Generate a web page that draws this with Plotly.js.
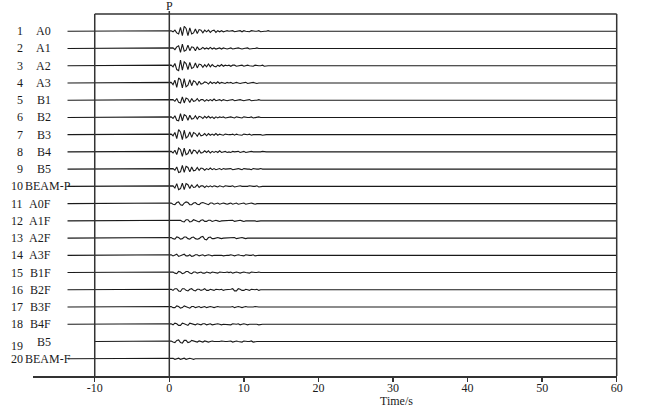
<!DOCTYPE html>
<html>
<head>
<meta charset="utf-8">
<script src="https://cdn.plot.ly/plotly-3.0.1.min.js"></script>
<style>html,body{margin:0;padding:0;background:#fff;}#chart{width:645px;height:410px;}</style>
</head>
<body>
<div id="chart"></div>
<script>
// ---- data ----
const traceNumbers = ["1","2","3","4","5","6","7","8","9","10","11","12","13","14","15","16","17","18","19","20"];
const stationNames = ["A0","A1","A2","A3","B1","B2","B3","B4","B5","BEAM-P","A0F","A1F","A2F","A3F","B1F","B2F","B3F","B4F","B5","BEAM-F"];
const traceStart = [-13.65,-13.65,-13.65,-13.65,-13.65,-13.65,-13.65,-13.65,-13.65,-13.65,-13.65,-13.65,-13.65,-13.65,-13.65,-13.65,-13.65,-13.65,-10,-13.65];
const traceEnd = 60;
const sampleStep = 0.25;   // s, samples start at P (t = 0)
const xTicks = [-10,0,10,20,30,40,50,60];

// amplitudes (counts), t = 0 ... 14 s
const wA0   = [0,1,-1,2,-3,-5,7,-8,9,5,-8,6,-5,-3,4,-4,3,2,-3,2, -1,2,-2,1,2,-2,1,-1,1,-1,0,1,0, 0,1,-1,0,0,1,-1,1,0,0,-1,1,0,0,0,1,-1,0,0,0,1,0,0,0];
const wA1   = [0,0,1,-2,3,5,-7,8,-5,-3,6,-4,3,2,-4,3,-2,-1,2,-1, 1,-1,2,-1,1,-1,0,1,-1,1,0,-1,0, 1,-1,0,0,1,0,-1,0,0,1,-1,0,0,0,1,0,0,-1,0,0,0,0,0,0];
const wA2   = [0,1,-2,4,-7,-9,10,-8,7,4,-7,6,-5,-3,5,-4,3,2,-3,2, -2,3,-2,2,-1,-2,1,-1,2,-1,1,0,1, -1,1,1,-1,0,0,1,-1,0,1,0,0,-1,1,0,0,0,1,-1,0,0,0,0,0];
const wA3   = [0,1,-3,5,-8,9,6,-9,8,-7,-4,6,-5,4,2,-4,3,-2,-1,2, 1,-2,2,-1,1,-1,2,-1,1,0,-1,1,0, 1,-1,0,1,0,-1,0,0,1,-1,0,0,1,0,-1,0,0,0,1,0,0,0,0,0];
const wB1   = [0,0,1,-2,3,-4,-5,6,-5,4,2,-4,3,-2,-1,3,-2,1,1,-2, 1,-1,1,-1,2,-1,0,1,-1,1,0,-1,0, 0,1,-1,0,0,1,0,-1,0,0,1,-1,0,0,0,1,0,0,-1,0,0,0,0,0];
const wB2   = [0,1,-2,3,-5,-6,7,-6,5,3,-5,4,-3,-2,3,-3,2,1,-2,2, -1,2,-1,1,-2,1,-1,1,0,1,-1,0,0, 1,0,-1,1,0,0,-1,1,0,0,0,1,-1,0,0,1,0,0,0,-1,0,0,0,0];
const wB3   = [0,1,-2,4,-7,9,5,-9,8,-6,-3,5,-5,4,2,-3,3,-2,-1,2, -2,2,-1,1,-1,2,-1,1,0,-1,1,0,0, 0,1,-1,1,0,0,-1,1,0,0,1,-1,0,0,0,1,0,-1,0,0,0,0,0,0];
const wB4   = [0,1,-2,3,-5,7,4,-8,7,-5,-3,5,-4,3,2,-3,3,-2,-1,2, -1,2,-2,1,-1,1,-1,2,-1,0,1,-1,0, -1,1,0,0,1,-1,0,1,-1,0,0,1,0,0,-1,0,0,1,0,0,0,0,0,0];
const wB5   = [0,0,1,-2,4,-6,-5,7,-6,5,3,-5,4,-3,-2,3,-2,2,1,-2, 1,-1,2,-1,1,-1,0,1,-1,1,0,0,0, 1,-1,0,0,1,0,-1,1,0,0,0,-1,1,0,0,0,1,0,0,0,0,0,0,0];
const wBEAMP= [0,0,1,-3,5,-6,-4,6,-6,5,3,-4,3,-2,-1,3,-2,1,1,-2, 1,-1,1,-1,1,0,-1,1,0,-1,1,0,0, 0,1,-1,0,0,1,0,0,-1,0,1,0,0,0,1,-1,0,0,0,0,0,0,0,0];
const wA0F  = [0,1,-1,-2,2,3,-2,-3,1,3,2,-2,-2,1,2,-1,-2,1,2,1,-1,-2,1,1,-1,0,1,-1,0,1,0,-1,0, 1,-1,0,1,-1,0,0,1,-1,0,0,1,0,-1,0,0,1,0,0,0,0,0,0,0];
const wA1F  = [0,0,0,0,0,0,1,-1,-2,2,2,-2,-1,2,1,-1,-2,1,2,-1,-1,1,1,-1,0,1,0,-1,0,0,1,0,0, 0,1,-1,0,0,1,0,-1,0,0,1,0,0,0,-1,0,0,0,0,0,0,0,0,0];
const wA2F  = [0,1,-1,-2,2,1,-2,-1,2,2,-1,-2,1,2,-1,-2,-1,2,3,-2,-3,1,2,-1,-1,0,1,0,-1,0,0,1,0, 0,0,1,-1,0,0,1,0,-1,0,0,0,1,0,0,0,0,0,0,0,0,0,0,0];
const wA3F  = [0,1,-1,1,2,-2,-1,1,2,-1,-1,1,-2,-1,1,1,-1,0,1,-1,0,1,0,-1,0,0,1,0,0,-1,0,0,0, 1,0,-1,0,1,0,0,-1,1,0,0,0,1,-1,0,0,0,0,0,0,0,0,0,0];
const wB1F  = [0,0,1,-1,-2,2,1,-2,-1,2,2,-1,-2,1,1,-1,0,1,-1,-1,1,0,-1,1,0,0,-1,1,0,0,0,1,0, 1,-1,0,1,0,-1,0,1,0,0,-1,1,0,0,0,1,0,0,0,0,0,0,0,0];
const wB2F  = [0,1,-1,2,2,-2,-3,2,2,-1,-2,1,2,-1,-2,1,1,-1,0,2,-1,-1,1,0,-1,1,0,0,1,-1,0,0,0, 1,2,-2,-2,2,1,-1,-1,1,0,-1,1,0,0,1,-1,0,0,1,0,0,0,0,0];
const wB3F  = [0,1,-1,-1,2,1,-2,-1,2,1,-1,-2,1,1,-1,0,1,-1,0,1,-1,0,1,0,-1,0,1,0,0,-1,0,0,0, 0,1,-1,0,1,0,-1,0,1,0,0,-1,0,1,0,0,0,0,0,0,0,0,0,0];
const wB4F  = [0,1,-1,2,1,-2,-2,2,1,-1,-2,2,1,-1,-1,1,0,-1,1,1,-1,0,1,-1,0,0,1,0,-1,0,0,0,0, -1,1,0,0,1,-1,0,1,0,-1,0,0,1,0,0,-1,0,0,0,0,0,0,0,0];
const wB5F  = [0,1,-1,-2,2,3,-2,-3,2,2,-2,-1,2,1,-1,-1,1,0,-1,1,0,-1,0,1,0,0,-1,0,1,0,0,0,0, 1,-1,0,1,0,0,-1,1,0,0,0,1,-1,0,0,0,0,0,0,0,0,0,0,0];
const wBEAMF= [0,0,1,-1,0,1,-1,0,1,-1,0,1,0,-1,0,0,1,0,0,0,0,0,0,0,0,0,0,0,0,0,0,0,0, 0,0,0,0,0,0,0,0,0,0,0,0,0,0,0,0,0,0,0,0,0,0,0,0];

const waveforms = [wA0,wA1,wA2,wA3,wB1,wB2,wB3,wB4,wB5,wBEAMP,wA0F,wA1F,wA2F,wA3F,wB1F,wB2F,wB3F,wB4F,wB5F,wBEAMF];

// ---- drawing ----
const gain = 0.032;            // row units per count (trace spacing = 1 row)
const xMin = -18.28, xMax = 60.04;
const frameLeft = -10, frameRight = 60;
const px = v => (v - xMin) / (xMax - xMin);   // data x -> paper x
const serif = 'Liberation Serif, Times New Roman, serif';
const ink = '#1a1a1a';

const traces = waveforms.map((w, i) => {
  const row = i + 1;
  const xs = [traceStart[i], 0];
  const ys = [row, row];
  w.forEach((a, k) => { xs.push(k * sampleStep); ys.push(row - a * gain); });
  xs.push((w.length - 1) * sampleStep, traceEnd);
  ys.push(row, row);
  return {x: xs, y: ys, type: 'scatter', mode: 'lines', cliponaxis: false,
          line: {color: ink, width: 1.1}, hoverinfo: 'skip'};
});

const annotations = [];
stationNames.forEach((name, i) => {
  const row = i + 1;
  annotations.push({xref: 'paper', yref: 'y', x: -0.014, y: row, text: traceNumbers[i],
    showarrow: false, xanchor: 'right', yanchor: 'middle', yshift: (row === 19 ? -4 : 0),
    font: {family: serif, size: 12, color: ink}});
  const isBeam = name.indexOf('BEAM') === 0;
  annotations.push({xref: 'paper', yref: 'y', x: isBeam ? -0.017 : 0.034, y: row, text: name,
    showarrow: false, xanchor: isBeam ? 'left' : 'right', yanchor: 'middle',
    font: {family: serif, size: 12, color: ink}});
});
annotations.push({xref: 'paper', yref: 'paper', x: px(0), y: 1.022, text: 'P', showarrow: false,
  xanchor: 'center', yanchor: 'middle', font: {family: serif, size: 12, color: ink}});
annotations.push({xref: 'paper', yref: 'paper', x: 0.6216, y: -0.068, text: 'Time/s', showarrow: false,
  xanchor: 'center', yanchor: 'middle', font: {family: serif, size: 12, color: ink}});

const frameColor = '#333';
const shapes = [
  {type: 'line', xref: 'paper', yref: 'paper', x0: px(frameLeft), x1: px(frameRight), y0: 1, y1: 1, line: {color: frameColor, width: 1.5}},
  {type: 'line', xref: 'paper', yref: 'paper', x0: px(frameLeft), x1: px(frameLeft), y0: 0, y1: 1, line: {color: frameColor, width: 1.5}},
  {type: 'line', xref: 'paper', yref: 'paper', x0: px(frameRight), x1: px(frameRight), y0: 0, y1: 1, line: {color: frameColor, width: 1.5}},
  {type: 'line', xref: 'paper', yref: 'paper', x0: px(0), x1: px(0), y0: 0, y1: 1.008, line: {color: frameColor, width: 1.5}}
];

const layout = {
  width: 645, height: 410,
  margin: {l: 33, r: 28, t: 14, b: 34, pad: 0},
  paper_bgcolor: '#ffffff', plot_bgcolor: '#ffffff',
  showlegend: false,
  xaxis: {range: [xMin, xMax], tickvals: xTicks, ticktext: xTicks.map(String),
    showgrid: false, zeroline: false, showline: true, linecolor: frameColor, linewidth: 1.5,
    ticks: 'outside', ticklen: 4, tickwidth: 1.5, tickcolor: frameColor, ticklabelstandoff: -4,
    tickfont: {family: serif, size: 12, color: ink}, fixedrange: true},
  yaxis: {range: [21, 0], visible: false, showgrid: false, zeroline: false, fixedrange: true},
  shapes: shapes,
  annotations: annotations
};

Plotly.newPlot('chart', traces, layout, {displayModeBar: false, staticPlot: true});
</script>
</body>
</html>
